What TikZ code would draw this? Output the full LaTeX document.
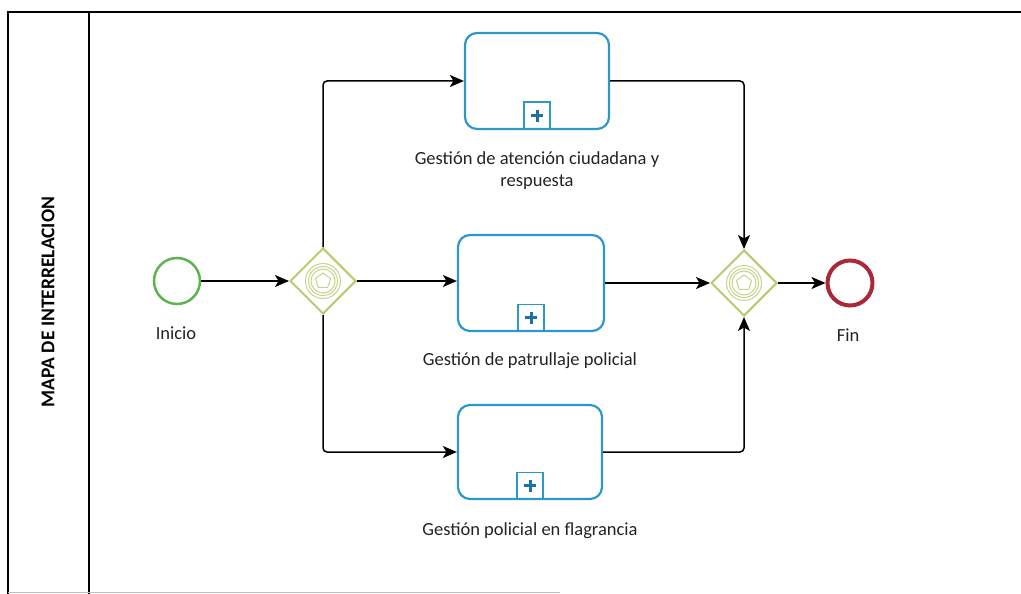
\documentclass[tikz,border=0pt]{standalone}
\usepackage{fontspec}
\setmainfont{Carlito}
\usetikzlibrary{shapes.geometric,arrows.meta,calc}
\definecolor{startgreen}{RGB}{95,178,80}
\definecolor{gwgreen}{RGB}{182,202,110}
\definecolor{taskblue}{RGB}{45,152,198}
\definecolor{plusblue}{RGB}{30,112,165}
\definecolor{endred}{RGB}{170,40,55}
\definecolor{txt}{RGB}{35,35,35}
\tikzset{
  frameline/.style={line width=1.3pt, black},
  taskbox/.style={draw=taskblue, line width=2.2pt, rounded corners=12pt, rectangle, inner sep=0pt},
  gateway/.style={draw=gwgreen, line width=2pt, diamond, minimum width=66pt, minimum height=66pt, inner sep=0pt, aspect=1},
  startev/.style={draw=startgreen, line width=2.5pt, circle, minimum size=46pt, inner sep=0pt},
  endev/.style={draw=endred, line width=4pt, circle, minimum size=45pt, inner sep=0pt},
  markerbox/.style={draw=taskblue, line width=1.6pt, rectangle, minimum width=26pt, minimum height=27pt, inner sep=0pt, anchor=south},
  lbl/.style={font=\fontsize{18.5}{22}\selectfont, text=txt, align=center},
  arr/.style={-{Stealth[length=14pt,width=12pt,inset=3.5pt]}, line width=1.5pt, black, rounded corners=4pt},
}
\newcommand{\gwinner}[1]{%
  \draw[gwgreen!80, line width=1pt] (#1) circle (17.5pt);
  \draw[gwgreen!80, line width=1pt] (#1) circle (14.5pt);
  \draw[gwgreen!80, line width=1pt] (#1) circle (12pt);
  \draw[gwgreen!80, line width=1pt] ($(#1)+(90:8pt)$) -- ($(#1)+(162:8pt)$) -- ($(#1)+(234:8pt)$) -- ($(#1)+(306:8pt)$) -- ($(#1)+(18:8pt)$) -- cycle;
}
\newcommand{\plusmark}[1]{%
  \node[markerbox] (#1m) at (#1.south) {};
  \draw[plusblue, line width=3pt] ($(#1m.center)+(-6pt,0)$) -- ($(#1m.center)+(6pt,0)$);
  \draw[plusblue, line width=3pt] ($(#1m.center)+(0,-6pt)$) -- ($(#1m.center)+(0,6pt)$);
}
\begin{document}
\begin{tikzpicture}[x=1pt,y=-1pt]
\useasboundingbox (0,0) rectangle (1021,594);
% frame
\coordinate (ftl) at (8,12);
\coordinate (ftr) at (1021,12);
\coordinate (fbl) at (8,594);
\coordinate (dtop) at (89,12);
\coordinate (dbot) at (89,594);
\coordinate (bl) at (8,592);
\coordinate (br) at (560,592);
\draw[frameline] (fbl) -- (ftl) -- (ftr);
\draw[frameline] (dtop) -- (dbot);
\draw[black!25, line width=0.8pt] (bl) -- (br);
\node[rotate=90, font=\bfseries\fontsize{19.5}{22}\selectfont, text=black] (title) at (48,302) {MAPA DE INTERRELACION};

% events
\node[startev] (start) at (177,281) {};
\node[lbl, anchor=north] (startl) at (176,323) {Inicio};
\node[endev] (end) at (850,283) {};
\node[lbl, anchor=north] (endl) at (848,325) {Fin};

% gateways
\node[gateway] (g1) at (323,281) {};
\gwinner{g1}
\node[gateway] (g2) at (744,283) {};
\gwinner{g2}

% tasks
\node[taskbox, minimum width=144pt, minimum height=96pt] (t1) at (537,81) {};
\plusmark{t1}
\node[lbl, anchor=north] (t1l) at (537,148) {Gestión de atención ciudadana y\\respuesta};
\node[taskbox, minimum width=146pt, minimum height=96pt] (t2) at (531,283) {};
\plusmark{t2}
\node[lbl, anchor=north] (t2l) at (530,349) {Gestión de patrullaje policial};
\node[taskbox, minimum width=144pt, minimum height=94pt] (t3) at (530,452) {};
\plusmark{t3}
\node[lbl, anchor=north] (t3l) at (530,519) {Gestión policial en flagrancia};

% connectors
\draw[arr] (start) -- (g1);
\draw[arr] (g1.north) |- (t1.west);
\draw[arr] (g1.east) -- (g1.east -| t2.west);
\draw[arr] (g1.south) |- (t3.west);
\draw[arr] (t1.east) -| (g2.north);
\draw[arr] (t2.east) -- (g2.west);
\draw[arr] (t3.east) -| (g2.south);
\draw[arr] (g2.east) -- (end.west);
\end{tikzpicture}
\end{document}
